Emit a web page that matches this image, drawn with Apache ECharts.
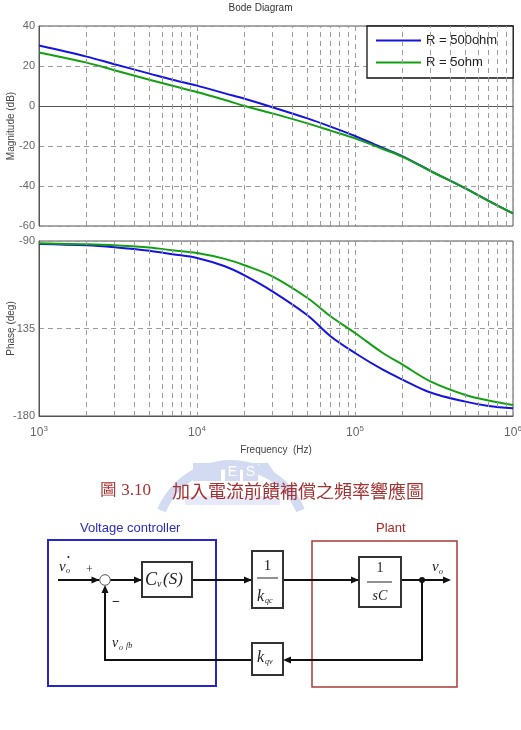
<!DOCTYPE html>
<html>
<head>
<meta charset="utf-8">
<title>Bode Diagram</title>
<script src="https://cdn.jsdelivr.net/npm/echarts@6/dist/echarts.min.js"></script>
<style>
  html, body { margin: 0; padding: 0; background: #fff; }
  #main { width: 521px; height: 730px; }
</style>
</head>
<body>
<div id="main"></div>
<script>
// 频率点 (Hz)
var freqs = [1e3, 2e3, 3e3, 5e3, 7e3, 1e4, 1.5e4, 2e4, 3e4, 5e4, 7e4, 1e5, 1.5e5, 2e5, 3e5, 5e5, 7e5, 1e6];
// 幅值 (dB)
var magR500 = [30.2, 24.7, 20.9, 16.2, 13.1, 10.2, 6.3, 3.6, -0.6, -6.2, -10.3, -15.0, -21.0, -25.2, -32.4, -41.2, -47.4, -53.7];
var magR5 = [26.8, 21.7, 17.9, 13.1, 10.1, 7.0, 3.0, 0.0, -3.7, -8.7, -12.3, -16.2, -21.5, -25.4, -32.5, -41.2, -47.4, -53.7];
// 相位 (deg)
var phaseR500 = [-91.5, -92.2, -93.2, -95.0, -96.8, -98.7, -103.0, -107.7, -115.9, -128.2, -139.0, -147.6, -156.2, -161.3, -167.9, -172.6, -174.8, -176.0];
var phaseR5 = [-91.2, -91.7, -92.2, -93.3, -94.8, -96.2, -99.2, -102.5, -108.2, -119.3, -128.7, -137.3, -147.6, -153.6, -162.2, -169.2, -172.0, -174.3];
var seriesNames = ['R = 500ohm', 'R = 5ohm'];
// 对数坐标的次网格线
var minorFreqs = [2e3, 3e3, 4e3, 5e3, 6e3, 7e3, 8e3, 9e3,
                  2e4, 3e4, 4e4, 5e4, 6e4, 7e4, 8e4, 9e4,
                  2e5, 3e5, 4e5, 5e5, 6e5, 7e5, 8e5, 9e5];

var BLUE = '#1414dc';
var GREEN = '#12a012';
var GRIDC = '#9a9a9a';
var DASH = [5, 4];
var FONT = 'Liberation Sans, Arial, sans-serif';
var SERIF = 'Liberation Serif, Times New Roman, serif';
var WM = '#d3dbf3';   // 水印颜色

function pairs(ys) {
  return freqs.map(function (f, i) { return [f, ys[i]]; });
}

function xAxisOf(idx, showLabel) {
  return {
    type: 'log', logBase: 10, gridIndex: idx,
    min: 1e3, max: 1e6,
    axisLine: { show: true, lineStyle: { color: '#555' } },
    axisTick: { show: false },
    splitLine: { show: true, lineStyle: { color: GRIDC, type: DASH } },
    axisLabel: {
      show: showLabel, margin: 9, color: '#666', fontFamily: FONT, fontSize: 12,
      lineHeight: 16,
      formatter: function (v) { return '10{sup|' + Math.round(Math.log10(v)) + '}'; },
      rich: { sup: { fontSize: 8, verticalAlign: 'top', color: '#666', fontFamily: FONT } }
    }
  };
}

function yAxisOf(idx, name, min, max, step) {
  return {
    type: 'value', gridIndex: idx, min: min, max: max, interval: step,
    name: name, nameLocation: 'middle', nameGap: 23, nameMoveOverlap: false,
    nameTextStyle: { color: '#444', fontSize: 10, fontFamily: FONT },
    axisLine: { show: true, lineStyle: { color: '#555' } },
    axisTick: { show: false },
    axisLabel: { color: '#666', fontSize: 11, fontFamily: FONT, margin: 4 },
    splitLine: { show: true, lineStyle: { color: GRIDC, type: DASH } }
  };
}

function minorLines(idx) {
  return {
    type: 'line', name: 'minor' + idx, xAxisIndex: idx, yAxisIndex: idx,
    data: [], z: 1, silent: true,
    markLine: {
      silent: true, symbol: 'none', animation: false,
      label: { show: false },
      lineStyle: { color: GRIDC, type: DASH, width: 1 },
      data: minorFreqs.map(function (f) { return { xAxis: f }; })
    }
  };
}

function curve(name, idx, ys, color) {
  return {
    type: 'line', name: name, xAxisIndex: idx, yAxisIndex: idx,
    data: pairs(ys), smooth: 0.35, symbol: 'none', z: 3,
    lineStyle: { color: color, width: 2 },
    itemStyle: { color: color }
  };
}

// 方块图用的小工具
function box(x, y, w, h, color, lw) {
  return { type: 'rect', shape: { x: x, y: y, width: w, height: h },
           style: { fill: 'none', stroke: color, lineWidth: lw } };
}
function wire(pts) {
  return { type: 'polyline', shape: { points: pts },
           style: { fill: null, stroke: '#111', lineWidth: 2 } };
}
function arrow(x, y, dir) {
  var L = 8, W = 3.5, p;
  if (dir === 'r') p = [[x, y], [x - L, y - W], [x - L, y + W]];
  else if (dir === 'l') p = [[x, y], [x + L, y - W], [x + L, y + W]];
  else p = [[x, y], [x - W, y + L], [x + W, y + L]];
  return { type: 'polygon', shape: { points: p }, style: { fill: '#111' } };
}
function txt(x, y, s, size, opt) {
  opt = opt || {};
  return {
    type: 'text', x: x, y: y,
    style: {
      text: s, fontSize: size, fontFamily: opt.family || SERIF,
      fontStyle: opt.italic === false ? 'normal' : 'italic',
      fontWeight: opt.weight || 'normal',
      fill: opt.color || '#222', align: opt.align || 'left', verticalAlign: 'middle'
    }
  };
}

var chart = echarts.init(document.getElementById('main'));

var option = {
  animation: false,
  backgroundColor: '#fff',
  title: {
    text: 'Bode Diagram', left: 'center', top: -2,
    textStyle: { fontSize: 10, fontWeight: 'normal', color: '#333', fontFamily: FONT }
  },
  legend: {
    data: seriesNames, orient: 'vertical', left: 367, top: 26,
    icon: 'rect', itemWidth: 45, itemHeight: 2, itemGap: 9,
    padding: [8, 16, 9, 9],
    borderColor: '#111', borderWidth: 1.3, backgroundColor: '#fff',
    textStyle: { fontSize: 13, color: '#222', fontFamily: FONT }
  },
  grid: [
    { left: 39, top: 26, width: 474, height: 200, outerBoundsMode: 'none',
      show: true, borderColor: '#555', borderWidth: 1 },
    { left: 39, top: 241, width: 474, height: 175, outerBoundsMode: 'none',
      show: true, borderColor: '#555', borderWidth: 1 }
  ],
  xAxis: [
    xAxisOf(0, false),
    Object.assign(xAxisOf(1, true), {
      name: 'Frequency  (Hz)', nameLocation: 'middle', nameGap: 29, nameMoveOverlap: false,
      nameTextStyle: { color: '#444', fontSize: 10, fontFamily: FONT }
    })
  ],
  yAxis: [
    yAxisOf(0, 'Magnitude (dB)', -60, 40, 20),
    yAxisOf(1, 'Phase (deg)', -180, -90, 45)
  ],
  series: [
    minorLines(0),
    minorLines(1),
    curve(seriesNames[0], 0, magR500, BLUE),
    curve(seriesNames[1], 0, magR5, GREEN),
    curve(seriesNames[0], 1, phaseR500, BLUE),
    curve(seriesNames[1], 1, phaseR5, GREEN)
  ],
  graphic: [
    // 水印 (校徽)
    { type: 'sector', shape: { cx: 231, cy: 540, r: 80, r0: 71,
        startAngle: -Math.PI * 157 / 180, endAngle: -Math.PI * 23 / 180 },
      style: { fill: WM } },
    { type: 'rect', shape: { x: 193, y: 463, width: 28, height: 18 }, style: { fill: WM } },
    { type: 'rect', shape: { x: 225, y: 463, width: 15, height: 18 }, style: { fill: WM } },
    { type: 'rect', shape: { x: 243, y: 463, width: 15, height: 18 }, style: { fill: WM } },
    { type: 'polygon', shape: { points: [[258, 463], [268, 463], [280, 481], [270, 481]] }, style: { fill: WM } },
    txt(232.5, 472, 'E', 14, { italic: false, color: '#fff', family: FONT, align: 'center' }),
    txt(250.5, 472, 'S', 14, { italic: false, color: '#fff', family: FONT, align: 'center' }),
    { type: 'rect', shape: { x: 185, y: 496, width: 95, height: 9 }, style: { fill: '#e6eaf8' } },

    // 图注
    txt(100, 491, '圖 3.10', 17, { italic: false, color: '#a33232' }),
    txt(172, 491, '加入電流前饋補償之頻率響應圖', 18, { italic: false, color: '#a33232', family: 'Noto Sans CJK TC' }),

    // 外框
    txt(80, 528, 'Voltage controller', 13, { italic: false, color: '#2a2ac8', family: FONT }),
    box(48, 540, 168, 146, '#2626cc', 2),
    txt(376, 528, 'Plant', 13, { italic: false, color: '#b02828', family: FONT }),
    box(312, 541, 145, 146, '#a83a3a', 1.5),

    // 信号线
    wire([[58, 580], [99, 580]]), arrow(99.5, 580, 'r'),
    wire([[110, 580], [141, 580]]), arrow(142, 580, 'r'),
    wire([[192, 580], [251, 580]]), arrow(252, 580, 'r'),
    wire([[283, 580], [358, 580]]), arrow(359, 580, 'r'),
    wire([[401, 580], [449, 580]]), arrow(451, 580, 'r'),
    wire([[422, 580], [422, 660], [285, 660]]), arrow(283, 660, 'l'),
    wire([[252, 660], [105, 660], [105, 587]]), arrow(105, 585, 'u'),
    { type: 'circle', shape: { cx: 422, cy: 580, r: 3 }, style: { fill: '#111' } },
    { type: 'circle', shape: { cx: 105, cy: 580, r: 5.3 }, style: { fill: '#fff', stroke: '#555', lineWidth: 1 } },

    // 方块
    box(142, 562, 50, 35, '#333', 2),
    box(252, 551, 31, 57, '#333', 2),
    box(359, 557, 42, 50, '#333', 2),
    box(252, 643, 31, 32, '#333', 2),
    { type: 'line', shape: { x1: 257, y1: 578, x2: 278, y2: 578 }, style: { stroke: '#222', lineWidth: 1 } },
    { type: 'line', shape: { x1: 367, y1: 582, x2: 392, y2: 582 }, style: { stroke: '#222', lineWidth: 1 } },

    // 数学符号
    txt(59, 567, 'v', 15), txt(66, 571, 'o', 8), txt(67, 558, '•', 8, { italic: false }),
    txt(86, 570, '+', 12, { italic: false }),
    txt(112, 602, '−', 14, { italic: false, weight: 'bold' }),
    txt(145, 580, 'C', 18), txt(157, 584, 'v', 10), txt(163, 580, '(S)', 17),
    txt(267.5, 566, '1', 15, { italic: false, align: 'center' }),
    txt(257, 597, 'k', 16), txt(265, 601, 'qc', 8),
    txt(380, 568, '1', 14, { italic: false, align: 'center' }),
    txt(380, 596, 'sC', 14, { align: 'center' }),
    txt(432, 567, 'v', 15), txt(439, 572, 'o', 8),
    txt(257, 658, 'k', 16), txt(265, 662, 'qv', 8),
    txt(112, 643, 'v', 14), txt(119, 648, 'o', 8), txt(126, 646, 'fb', 8)
  ]
};

chart.setOption(option);
</script>
</body>
</html>
